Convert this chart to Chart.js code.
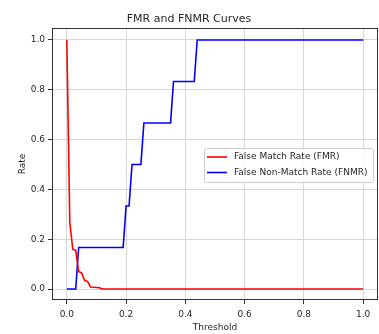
<!DOCTYPE html>
<html>
<head>
<meta charset="utf-8">
<script src="https://cdn.jsdelivr.net/npm/chart.js@4/dist/chart.umd.min.js"></script>
<style>
  body { margin: 0; background: #fff; }
  canvas { display: block; }
</style>
</head>
<body>
<canvas id="rateChart" width="379" height="334"></canvas>
<script>
// values (breakpoints of each curve)
const fmrThreshold = [0, 0.01, 0.02, 0.03, 0.04, 0.05, 0.06, 0.07, 0.08, 0.11, 0.12, 1.0];
const fmrRate      = [1.0, 0.27, 0.16, 0.155, 0.07, 0.065, 0.035, 0.03, 0.008, 0.005, 0.0, 0.0];

const fnmrThreshold = [0, 0.03, 0.04, 0.19, 0.20, 0.21, 0.22, 0.25, 0.26, 0.35, 0.36, 0.43, 0.44, 1.0];
const fnmrRate      = [0, 0, 0.1667, 0.1667, 0.3333, 0.3333, 0.5, 0.5, 0.6667, 0.6667, 0.8333, 0.8333, 1.0, 1.0];

const xTicks = [0.0, 0.2, 0.4, 0.6, 0.8, 1.0];
const yTicks = [0.0, 0.2, 0.4, 0.6, 0.8, 1.0];

const FONT = 'DejaVu Sans';
const TEXT = '#262626';

function toPoints(xs, ys) {
    return xs.map((x, i) => ({ x: x, y: ys[i] }));
}

// axes frame on all four sides + matplotlib style legend box
const framePlugin = {
    id: 'frame',
    afterDraw(chart) {
        const ctx = chart.ctx;
        const a = chart.chartArea;
        ctx.save();
        ctx.strokeStyle = '#333';
        ctx.lineWidth = 1;
        ctx.strokeRect(a.left + 0.5, a.top + 0.5, a.right - a.left - 1, a.bottom - a.top - 1);

        // legend
        const bx = 204, by = 148, bw = 169, bh = 34;
        ctx.fillStyle = 'rgba(255,255,255,0.8)';
        ctx.strokeStyle = '#cccccc';
        ctx.beginPath();
        ctx.roundRect(bx + 0.5, by + 0.5, bw, bh, 2);
        ctx.fill();
        ctx.stroke();

        ctx.font = '9px "' + FONT + '"';
        ctx.textBaseline = 'middle';
        chart.data.datasets.forEach((ds, i) => {
            const y = by + 9 + i * 15.5;
            ctx.strokeStyle = ds.borderColor;
            ctx.lineWidth = ds.borderWidth;
            ctx.beginPath();
            ctx.moveTo(bx + 3, y);
            ctx.lineTo(bx + 23, y);
            ctx.stroke();
            ctx.fillStyle = TEXT;
            ctx.fillText(ds.label, bx + 30, y);
        });
        ctx.restore();
    }
};

new Chart(document.getElementById('rateChart'), {
    type: 'line',
    data: {
        datasets: [
            {
                label: 'False Match Rate (FMR)',
                data: toPoints(fmrThreshold, fmrRate),
                borderColor: '#ff0000',
                borderWidth: 1.6,
                pointRadius: 0,
                tension: 0,
                fill: false
            },
            {
                label: 'False Non-Match Rate (FNMR)',
                data: toPoints(fnmrThreshold, fnmrRate),
                borderColor: '#0000ff',
                borderWidth: 1.6,
                pointRadius: 0,
                tension: 0,
                fill: false
            }
        ]
    },
    options: {
        responsive: false,
        animation: false,
        layout: { padding: { left: 0, right: 1, top: 0, bottom: 0 } },
        plugins: {
            legend: { display: false },
            tooltip: { enabled: false },
            title: {
                display: true,
                text: 'FMR and FNMR Curves',
                color: TEXT,
                font: { family: FONT, size: 11, weight: 'normal' },
                padding: { top: 12.5, bottom: 2.3 }
            }
        },
        scales: {
            x: {
                type: 'linear',
                min: -0.05,
                max: 1.05,
                afterBuildTicks: s => { s.ticks = xTicks.map(v => ({ value: v })); },
                afterFit: s => { s.height = 34; },
                grid: { color: '#d6d6d6', lineWidth: 1, tickLength: 4, tickColor: '#333' },
                border: { display: false },
                ticks: {
                    color: TEXT,
                    font: { family: FONT, size: 9 },
                    padding: 5,
                    maxRotation: 0,
                    callback: v => v.toFixed(1)
                },
                title: {
                    display: true,
                    text: 'Threshold',
                    color: TEXT,
                    font: { family: FONT, size: 9 },
                    padding: { top: 0, bottom: 1 }
                }
            },
            y: {
                type: 'linear',
                min: -0.044,
                max: 1.048,
                afterBuildTicks: s => { s.ticks = yTicks.map(v => ({ value: v })); },
                afterFit: s => { s.width = 52; },
                grid: { color: '#d6d6d6', lineWidth: 1, tickLength: 4, tickColor: '#333' },
                border: { display: false },
                ticks: {
                    color: TEXT,
                    font: { family: FONT, size: 9 },
                    padding: 3,
                    callback: v => v.toFixed(1)
                },
                title: {
                    display: true,
                    text: 'Rate',
                    color: TEXT,
                    font: { family: FONT, size: 9 },
                    padding: { top: 17, bottom: 0 }
                }
            }
        }
    },
    plugins: [framePlugin]
});
</script>
</body>
</html>
